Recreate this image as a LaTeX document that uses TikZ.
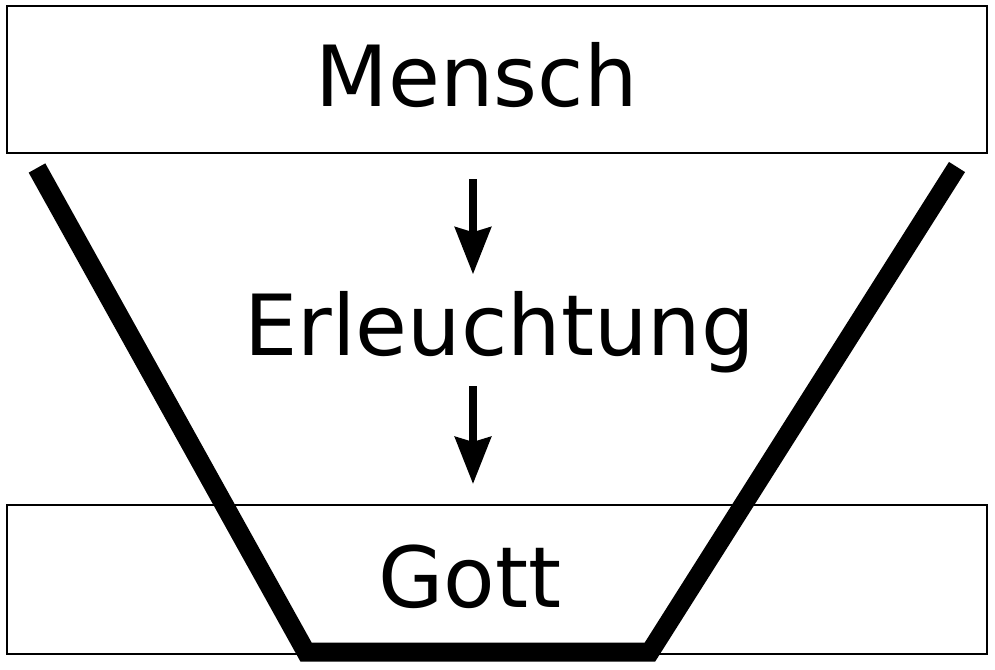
\documentclass[tikz,border=0pt]{standalone}
\usepackage{fontspec}
\setmainfont{DejaVu Sans}
\usetikzlibrary{positioning, arrows.meta, calc}

\begin{document}
\begin{tikzpicture}[font=\fontsize{24}{28}\selectfont, >={Stealth[length=4.7mm, width=3.6mm, inset=0.5mm]},
  frame/.style={draw, line width=0.6pt, minimum width=9.795cm, inner sep=0pt},
  word/.style={inner sep=0pt, anchor=base},
  flow/.style={->, line width=2pt},
  funnel/.style={line width=0.19cm, line join=miter, line cap=butt}]
  \useasboundingbox (0,0) rectangle (9.95,6.69);
  \node[frame, minimum height=1.47cm] (topbox) at (4.97,5.895){};
  \node[frame, minimum height=1.49cm] (bottombox) at (4.97,0.895){};
  \node[word] (mensch) at (4.765,5.62){Mensch};
  \node[word] (erleuchtung) at (4.995,3.13){Erleuchtung};
  \node[word] (gott) at (4.70,0.62){Gott};
  \coordinate (axis) at (4.73,0);
  \draw[flow, shorten <=0.25cm, shorten >=0.17cm] (topbox.south -| axis)--(erleuchtung.north -| axis);
  \draw[flow, shorten <=0.12cm, shorten >=0.2cm] (erleuchtung.south -| axis)--(bottombox.north -| axis);
  \draw[funnel] (0.37,5.01)--(3.06,0.17)--(6.50,0.17)--(9.57,5.02);
\end{tikzpicture}
\end{document}
